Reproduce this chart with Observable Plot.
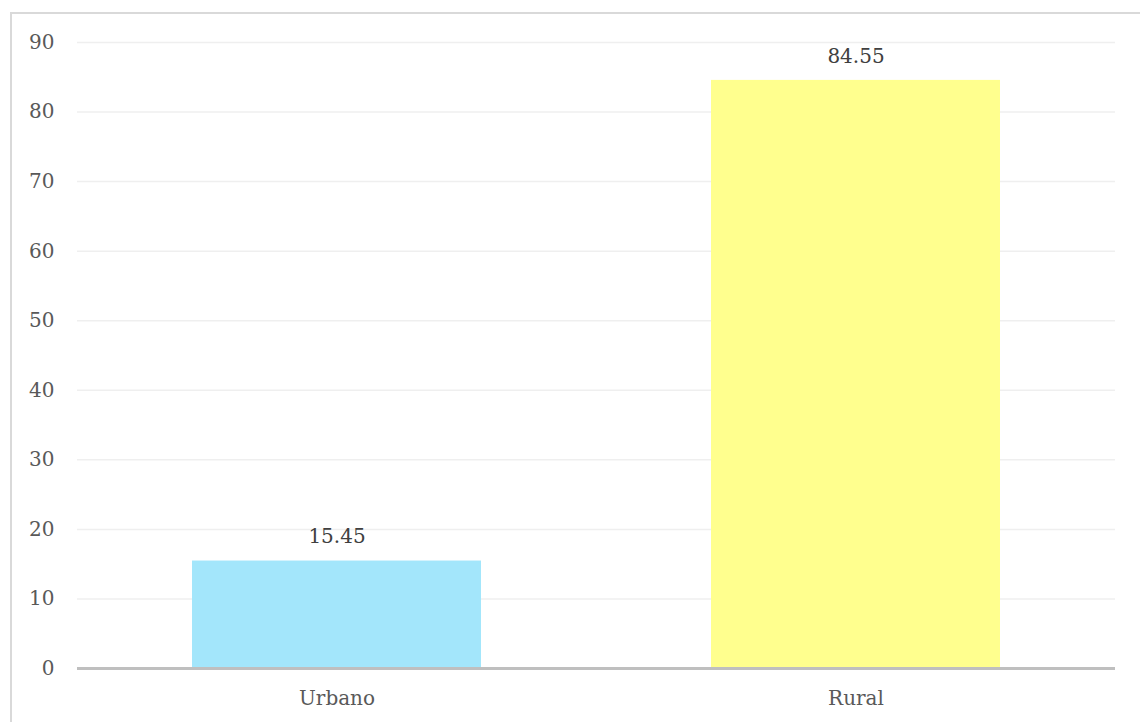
<!DOCTYPE html>
<html><head><meta charset="utf-8">
<script src="https://cdn.jsdelivr.net/npm/d3@7"></script>
<script src="https://cdn.jsdelivr.net/npm/@observablehq/plot@0.6"></script>
<style>
html,body{margin:0;padding:0;background:#fff;overflow:hidden;}
#wrap{position:relative;width:1140px;height:722px;}
#border{position:absolute;left:10px;top:12px;width:1200px;height:800px;border:2px solid #d9d9d9;box-sizing:border-box;}
#chart{position:absolute;left:0;top:0;}
</style></head>
<body><div id="wrap"><div id="border"></div><div id="chart"></div></div>
<script>
const categories = ["Urbano", "Rural"];
const values = [15.45, 84.55];
const colors = ["#a3e6fb", "#ffff8e"];
const yTicks = [0,10,20,30,40,50,60,70,80,90];
const data = categories.map((c,i)=>({cat:c, value:values[i], color:colors[i]}));

const chart = Plot.plot({
  width: 1140, height: 722,
  marginTop: 42, marginBottom: 54, marginLeft: 77, marginRight: 25,
  style: {fontFamily: "'DejaVu Serif', serif", fontSize: "20px", color: "#595959", background: "transparent"},
  x: {domain: categories, paddingInner: 0.443, paddingOuter: 0.2215, label: null, tickSize: 0, tickPadding: 22},
  y: {domain: [0, 90], ticks: yTicks, label: null, tickSize: 0, tickPadding: 23},
  marks: [
    Plot.ruleY(yTicks.filter(d=>d>0), {stroke: "#efefef", strokeWidth: 1.5}),
    Plot.barY(data, {x: "cat", y: "value", fill: "color"}),
    Plot.ruleY([0], {stroke: "#bfbfbf", strokeWidth: 3}),
    Plot.text(data, {x: "cat", y: "value", text: d=>d.value.toFixed(2), dy: -24, fill: "#404040", fontSize: 20})
  ]
});
document.getElementById("chart").appendChild(chart);
</script></body></html>
